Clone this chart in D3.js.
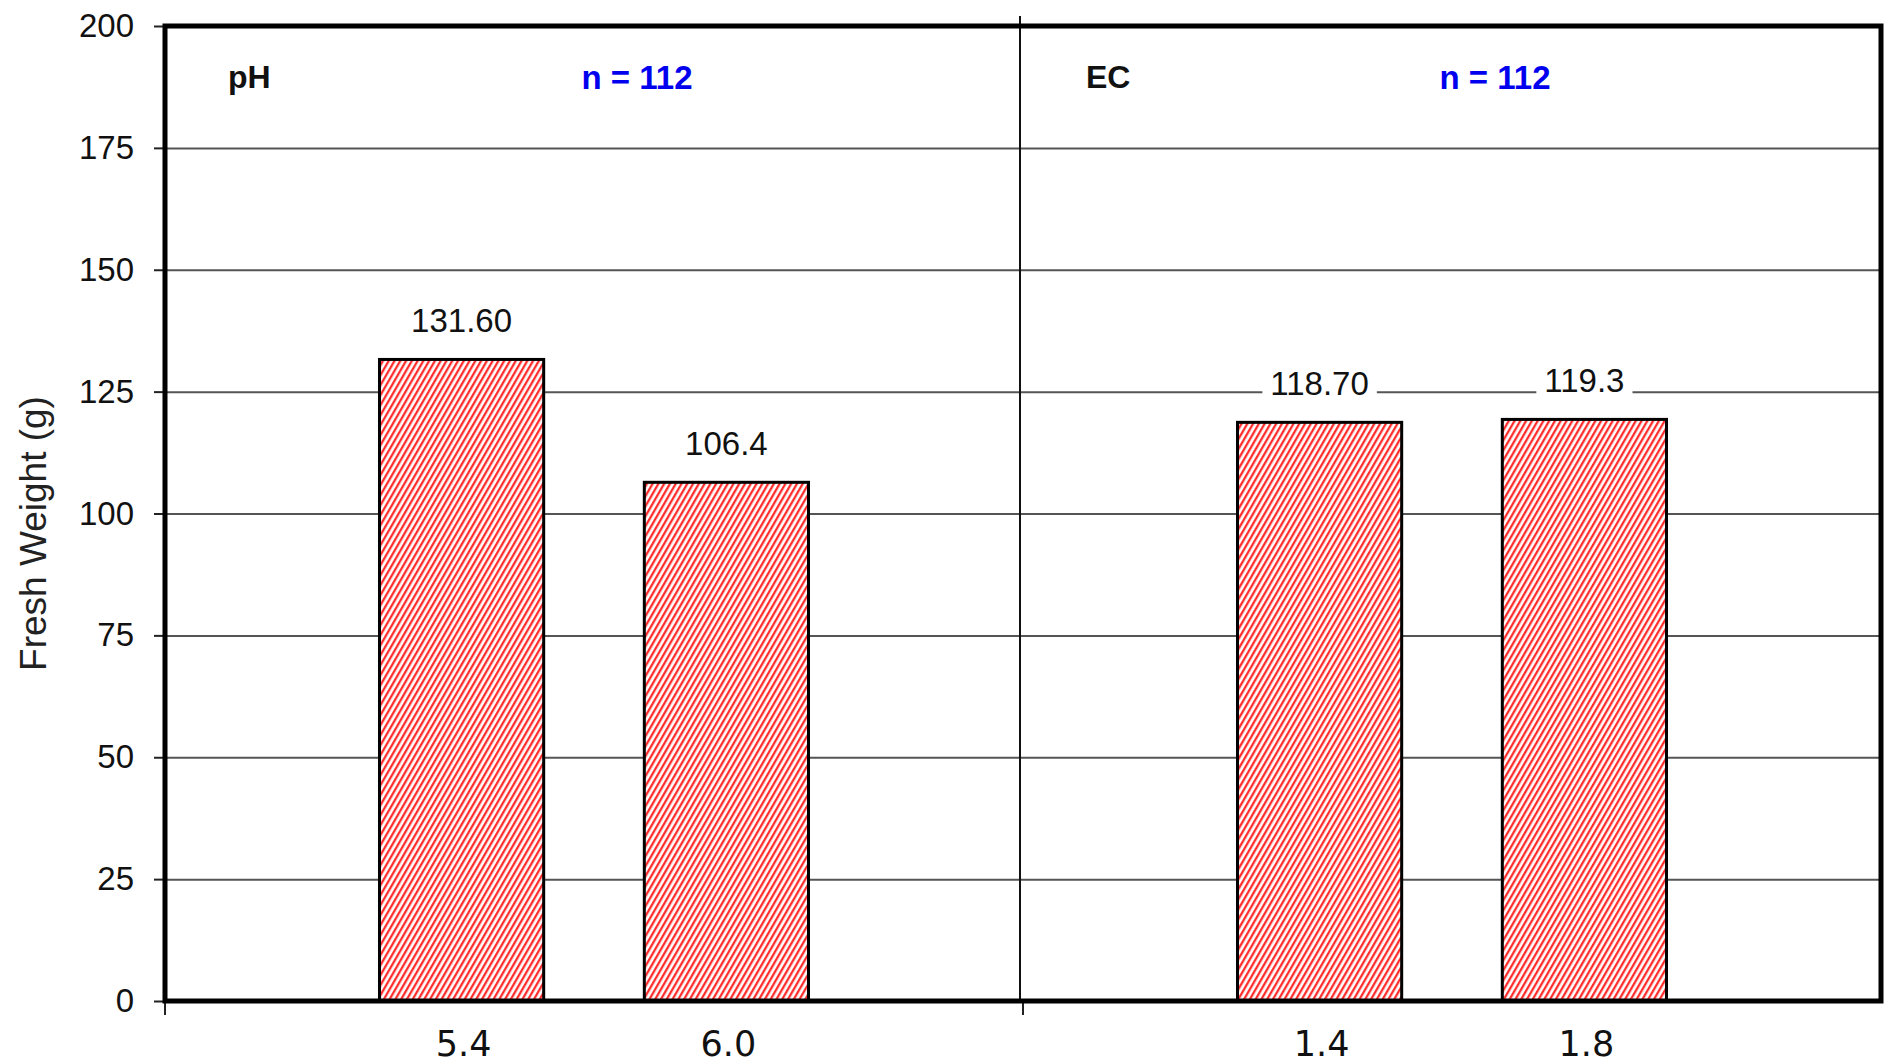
<!DOCTYPE html>
<html>
<head>
<meta charset="utf-8">
<script src="https://cdn.jsdelivr.net/npm/d3@7"></script>
<style>
  html, body { margin: 0; padding: 0; background: #fff; }
  svg { display: block; }
</style>
</head>
<body>
<div id="chart"></div>
<script>
// values
const panels = ["pH", "EC"];
const sampleSizes = [112, 112];
const phLevels = ["5.4", "6.0"];
const phWeights = [131.6, 106.4];
const phLabels = ["131.60", "106.4"];
const ecLevels = ["1.4", "1.8"];
const ecWeights = [118.7, 119.3];
const ecLabels = ["118.70", "119.3"];
const yTicks = [0, 25, 50, 75, 100, 125, 150, 175, 200];

// the table d3 joins on
const bars = [
    ...phLevels.map((lv, i) => ({panel: "pH", level: lv, value: phWeights[i], label: phLabels[i]})),
    ...ecLevels.map((lv, i) => ({panel: "EC", level: lv, value: ecWeights[i], label: ecLabels[i]})),
];

const W = 1887, H = 1064;
const margin = {top: 26, right: 6, bottom: 63, left: 165};
const width = W - margin.left - margin.right,
      height = H - margin.top - margin.bottom;

const svg = d3.select("#chart")
    .append("svg")
    .attr("width", W)
    .attr("height", H);

// red diagonal hatch for the bars
const defs = svg.append("defs");
const pat = defs.append("pattern")
    .attr("id", "hatch")
    .attr("patternUnits", "userSpaceOnUse")
    .attr("width", 5)
    .attr("height", 5)
    .attr("patternTransform", "rotate(30)");
pat.append("rect").attr("width", 5).attr("height", 5).attr("fill", "#fff");
pat.append("line")
    .attr("x1", 1.2).attr("y1", 0)
    .attr("x2", 1.2).attr("y2", 5)
    .attr("stroke", "#f22")
    .attr("stroke-width", 2.2);

const g = svg.append("g").attr("transform", `translate(${margin.left},${margin.top})`);

// scales
const y = d3.scaleLinear().domain([0, 200]).range([height, 0]);
const xPanel = d3.scaleBand().domain(panels).range([0, width]);
const pw = xPanel.bandwidth();
const levelsOf = {pH: phLevels, EC: ecLevels};
const xInner = {};
panels.forEach((p) => {
    xInner[p] = d3.scaleBand()
        .domain(levelsOf[p])
        .range([pw * 0.25, pw * 0.75])
        .paddingInner(0.38)
        .paddingOuter(0);
});
const barX = (d) => xPanel(d.panel) + xInner[d.panel](d.level);

// gridlines
g.append("g")
    .attr("class", "grid")
    .call(d3.axisLeft(y).tickValues(yTicks).tickSize(-width).tickFormat(""))
    .call((s) => s.select(".domain").remove())
    .selectAll("line")
    .attr("stroke", "#555")
    .attr("stroke-width", 2);

// y axis ticks + labels
g.append("g")
    .attr("class", "yAxis")
    .call(d3.axisLeft(y).tickValues(yTicks).tickSize(11).tickPadding(20))
    .call((s) => s.select(".domain").remove())
    .call((s) => s.selectAll("line").attr("stroke", "#222").attr("stroke-width", 2))
    .call((s) => s.selectAll("text")
        .attr("fill", "#111")
        .style("font-family", "'Liberation Sans', Arial, sans-serif")
        .style("font-size", "33px"));

// panel divider
g.append("line")
    .attr("x1", xPanel("EC") - 3).attr("x2", xPanel("EC") - 3)
    .attr("y1", -10).attr("y2", height)
    .attr("stroke", "#111")
    .attr("stroke-width", 2);

// small ticks under the x axis at panel starts
g.selectAll(".xtick")
    .data(panels)
    .join("line")
    .attr("class", "xtick")
    .attr("x1", (p) => xPanel(p)).attr("x2", (p) => xPanel(p))
    .attr("y1", height).attr("y2", height + 14)
    .attr("stroke", "#222")
    .attr("stroke-width", 2);

// bars
g.selectAll(".bar")
    .data(bars)
    .join("rect")
    .attr("class", "bar")
    .attr("x", barX)
    .attr("y", (d) => y(d.value))
    .attr("width", (d) => xInner[d.panel].bandwidth())
    .attr("height", (d) => y(0) - y(d.value))
    .attr("fill", "url(#hatch)")
    .attr("stroke", "#000")
    .attr("stroke-width", 3);

// value labels with white boxes (they cut the gridline like in excel)
const vl = g.selectAll(".vlabel")
    .data(bars)
    .join("g")
    .attr("class", "vlabel");
vl.append("text")
    .attr("x", (d) => barX(d) + xInner[d.panel].bandwidth() / 2)
    .attr("y", (d) => y(d.value) - 27)
    .attr("text-anchor", "middle")
    .style("font-family", "'Liberation Sans', Arial, sans-serif")
    .style("font-size", "33px")
    .attr("fill", "#111")
    .text((d) => d.label);
vl.each(function () {
    const t = d3.select(this).select("text");
    const b = t.node().getBBox();
    d3.select(this).insert("rect", "text")
        .attr("x", b.x - 8).attr("y", b.y)
        .attr("width", b.width + 16).attr("height", b.height)
        .attr("fill", "#fff");
});

// category labels under the bars
g.selectAll(".catlabel")
    .data(bars)
    .join("text")
    .attr("class", "catlabel")
    .attr("x", (d) => barX(d) + xInner[d.panel].bandwidth() / 2 + 2)
    .attr("y", height + 55)
    .attr("text-anchor", "middle")
    .style("font-family", "'DejaVu Sans', sans-serif")
    .style("font-size", "35px")
    .attr("fill", "#111")
    .text((d) => d.level);

// panel headings and sample sizes
g.selectAll(".ptitle")
    .data(panels)
    .join("text")
    .attr("class", "ptitle")
    .attr("x", (p) => xPanel(p) + 63)
    .attr("y", 62)
    .style("font-family", "'Liberation Sans', Arial, sans-serif")
    .style("font-size", "32px")
    .style("font-weight", "bold")
    .attr("fill", "#111")
    .text((p) => p);

g.selectAll(".nlabel")
    .data(panels)
    .join("text")
    .attr("class", "nlabel")
    .attr("x", (p) => xPanel(p) + 472)
    .attr("y", 63)
    .attr("text-anchor", "middle")
    .style("font-family", "'Liberation Sans', Arial, sans-serif")
    .style("font-size", "33px")
    .style("font-weight", "bold")
    .attr("fill", "#0000ee")
    .text((p, i) => `n = ${sampleSizes[i]}`);

// frame
g.append("rect")
    .attr("x", 0).attr("y", 0)
    .attr("width", width).attr("height", height)
    .attr("fill", "none")
    .attr("stroke", "#000")
    .attr("stroke-width", 5);

// y axis title
svg.append("text")
    .attr("transform", `translate(46, ${margin.top + y(100) + 20}) rotate(-90)`)
    .attr("text-anchor", "middle")
    .style("font-family", "'Liberation Sans', Arial, sans-serif")
    .style("font-size", "37px")
    .attr("fill", "#222")
    .text("Fresh Weight (g)");
</script>
</body>
</html>
